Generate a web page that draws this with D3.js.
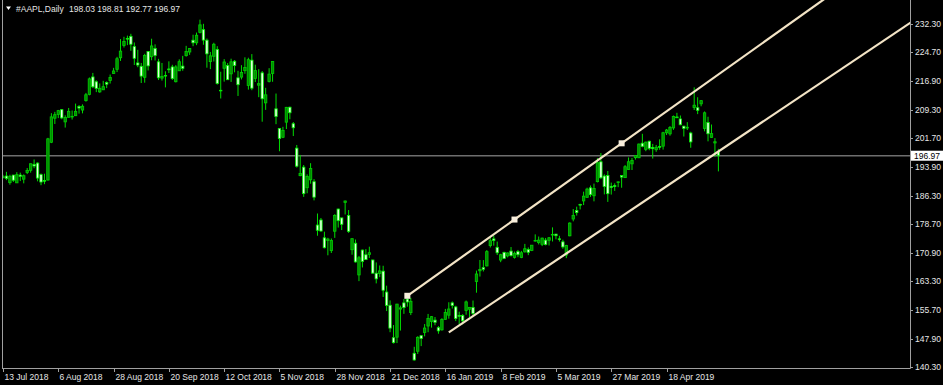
<!DOCTYPE html>
<html>
<head>
<meta charset="utf-8">
<script src="https://cdn.jsdelivr.net/npm/d3@7"></script>
<style>
  body { margin: 0; background: #000; }
  svg { display: block; }
</style>
</head>
<body>
<svg width="943" height="385"></svg>
<script>
// Trading days shown on the chart
const dates = [
  "2018-07-13","2018-07-16","2018-07-17","2018-07-18","2018-07-19","2018-07-20","2018-07-23","2018-07-24","2018-07-25","2018-07-26","2018-07-27","2018-07-30","2018-07-31",
  "2018-08-01","2018-08-02","2018-08-03","2018-08-06","2018-08-07","2018-08-08","2018-08-09","2018-08-10","2018-08-13","2018-08-14","2018-08-15","2018-08-16","2018-08-17","2018-08-20","2018-08-21","2018-08-22","2018-08-23","2018-08-24","2018-08-27","2018-08-28","2018-08-29","2018-08-30","2018-08-31",
  "2018-09-04","2018-09-05","2018-09-06","2018-09-07","2018-09-10","2018-09-11","2018-09-12","2018-09-13","2018-09-14","2018-09-17","2018-09-18","2018-09-19","2018-09-20","2018-09-21","2018-09-24","2018-09-25","2018-09-26","2018-09-27","2018-09-28",
  "2018-10-01","2018-10-02","2018-10-03","2018-10-04","2018-10-05","2018-10-08","2018-10-09","2018-10-10","2018-10-11","2018-10-12","2018-10-15","2018-10-16","2018-10-17","2018-10-18","2018-10-19","2018-10-22","2018-10-23","2018-10-24","2018-10-25","2018-10-26","2018-10-29","2018-10-30","2018-10-31",
  "2018-11-01","2018-11-02","2018-11-05","2018-11-06","2018-11-07","2018-11-08","2018-11-09","2018-11-12","2018-11-13","2018-11-14","2018-11-15","2018-11-16","2018-11-19","2018-11-20","2018-11-21","2018-11-23","2018-11-26","2018-11-27","2018-11-28","2018-11-29","2018-11-30",
  "2018-12-03","2018-12-04","2018-12-06","2018-12-07","2018-12-10","2018-12-11","2018-12-12","2018-12-13","2018-12-14","2018-12-17","2018-12-18","2018-12-19","2018-12-20","2018-12-21","2018-12-24","2018-12-26","2018-12-27","2018-12-28","2018-12-31",
  "2019-01-02","2019-01-03","2019-01-04","2019-01-07","2019-01-08","2019-01-09","2019-01-10","2019-01-11","2019-01-14","2019-01-15","2019-01-16","2019-01-17","2019-01-18","2019-01-22","2019-01-23","2019-01-24","2019-01-25","2019-01-28","2019-01-29","2019-01-30","2019-01-31",
  "2019-02-01","2019-02-04","2019-02-05","2019-02-06","2019-02-07","2019-02-08","2019-02-11","2019-02-12","2019-02-13","2019-02-14","2019-02-15","2019-02-19","2019-02-20","2019-02-21","2019-02-22","2019-02-25","2019-02-26","2019-02-27","2019-02-28",
  "2019-03-01","2019-03-04","2019-03-05","2019-03-06","2019-03-07","2019-03-08","2019-03-11","2019-03-12","2019-03-13","2019-03-14","2019-03-15","2019-03-18","2019-03-19","2019-03-20","2019-03-21","2019-03-22","2019-03-25","2019-03-26","2019-03-27","2019-03-28","2019-03-29",
  "2019-04-01","2019-04-02","2019-04-03","2019-04-04","2019-04-05","2019-04-08","2019-04-09","2019-04-10","2019-04-11","2019-04-12","2019-04-15","2019-04-16","2019-04-17","2019-04-18","2019-04-22","2019-04-23","2019-04-24","2019-04-25","2019-04-26","2019-04-29","2019-04-30",
  "2019-05-01","2019-05-02","2019-05-03","2019-05-06","2019-05-07","2019-05-08","2019-05-09","2019-05-10"
]

// Open, high, low, close for each day
const ohlc = [
  [191.08,191.84,190.90,191.33],[191.52,192.65,190.42,190.91],[189.75,191.87,189.20,191.45],[191.78,191.80,189.93,190.40],[189.69,192.55,189.69,191.88],
  [191.78,192.43,190.17,191.44],[190.68,191.96,189.56,191.61],[192.45,193.66,192.05,193.00],[193.06,194.85,192.43,194.82],[194.61,195.96,193.61,194.21],
  [194.99,195.19,190.10,190.98],[191.90,192.20,189.07,189.91],[190.30,192.14,189.34,190.29],
  [190.45,201.76,190.30,201.50],[200.58,208.38,200.35,207.39],[207.03,208.74,205.48,207.99],[208.00,209.25,207.07,209.07],[209.32,209.50,206.76,207.11],
  [206.05,207.81,204.52,207.25],[207.28,209.78,207.20,208.88],[207.36,209.10,206.67,207.53],[207.70,210.95,207.70,208.87],[210.16,210.56,208.26,209.75],
  [209.22,210.74,208.33,210.24],[211.75,213.81,211.47,213.32],[213.44,217.95,213.16,217.58],[218.10,219.18,215.11,215.46],[216.80,217.19,214.03,215.04],
  [214.10,216.36,213.84,215.05],[214.65,217.05,214.60,215.49],[216.60,216.90,215.11,216.16],[217.15,218.74,216.33,217.94],[219.01,220.54,218.92,219.70],
  [220.15,223.49,219.41,222.98],[223.25,228.26,222.40,225.03],[226.51,228.87,226.00,227.63],
  [228.41,229.18,226.63,228.36],[228.99,229.67,225.10,226.87],[226.23,227.35,221.30,223.10],[221.85,225.37,220.71,221.30],[220.95,221.85,216.47,218.33],
  [218.01,224.30,216.56,223.85],[224.94,225.00,219.84,221.07],[223.52,228.35,222.57,226.41],[225.75,226.84,222.52,223.84],[222.15,222.95,217.27,217.88],
  [217.79,221.85,217.12,218.24],[218.50,219.62,215.30,218.37],[220.24,222.28,219.15,220.03],[220.78,221.36,217.29,217.66],[216.82,221.26,216.63,220.79],
  [219.75,222.82,219.70,222.19],[221.00,223.75,219.76,220.42],[223.82,226.44,223.54,224.95],[224.79,225.84,224.02,225.74],
  [227.95,229.42,226.35,227.26],[227.25,230.00,226.63,229.28],[230.05,233.47,229.78,232.07],[230.78,232.35,226.73,227.99],[227.96,228.41,220.58,224.29],
  [222.21,224.80,220.20,223.77],[223.64,227.27,222.25,226.87],[225.46,226.35,216.05,216.36],[214.52,219.50,212.32,214.45],[220.42,222.88,216.84,222.11],
  [221.16,221.83,217.27,217.36],[218.93,222.99,216.76,222.15],[222.30,222.64,219.34,221.19],[217.86,219.74,213.00,216.02],[218.06,221.26,217.43,219.31],
  [219.79,223.36,218.94,220.65],[215.83,223.25,214.70,222.73],[222.60,224.23,214.54,215.09],[217.71,221.38,216.75,219.80],[215.90,220.19,212.67,216.30],
  [219.19,219.69,206.09,212.24],[211.15,215.18,209.27,213.30],[216.88,220.45,216.62,218.86],
  [219.05,222.36,216.81,222.22],[209.55,213.65,205.43,207.48],[204.30,204.39,198.17,201.59],[201.92,204.72,201.69,203.77],[205.97,210.06,204.13,209.95],
  [209.98,210.12,206.75,208.49],[205.55,206.01,202.25,204.47],[199.00,199.85,193.79,194.17],[191.63,197.18,191.45,192.23],[193.90,194.48,185.93,186.80],
  [188.39,191.97,186.90,191.41],[190.50,194.97,189.46,193.53],[190.00,190.70,184.99,185.86],[178.37,181.47,175.51,176.98],[179.73,180.27,176.55,176.78],
  [174.94,176.60,172.10,172.29],[174.24,174.95,170.26,174.62],[171.51,174.77,170.88,174.24],[176.73,181.29,174.93,180.94],[182.66,182.80,177.70,179.55],
  [180.29,180.33,177.03,178.58],
  [184.46,184.94,181.21,184.82],[180.95,182.39,176.27,176.69],[171.76,174.78,170.42,174.72],[173.49,174.49,168.30,168.49],[165.00,170.09,163.33,169.60],
  [171.66,171.79,167.00,168.63],[170.40,171.92,169.02,169.10],[170.49,172.57,169.55,170.95],[169.00,169.08,165.28,165.48],[165.45,168.35,162.73,163.94],
  [165.38,167.53,164.39,166.07],[166.00,167.45,159.09,160.89],[160.40,162.11,155.30,156.83],[156.86,158.16,149.63,150.73],[148.15,151.55,146.59,146.83],
  [148.30,157.23,146.72,157.17],[155.84,156.77,150.07,156.15],[157.50,158.52,154.55,156.23],[158.53,159.36,156.48,157.74],
  [154.89,158.85,154.23,157.92],[143.98,145.72,142.00,142.19],[144.53,148.55,143.80,148.26],[148.70,148.83,145.90,147.93],[149.56,151.82,148.52,150.75],
  [151.29,154.53,149.63,153.31],[152.50,153.97,150.86,153.80],[152.88,153.70,151.51,152.29],[150.85,151.27,149.22,150.00],[150.27,153.39,150.05,153.07],
  [153.08,155.88,153.00,154.94],[154.20,157.66,153.26,155.86],[157.50,157.88,155.98,156.82],[156.41,156.73,152.62,153.30],[154.15,155.14,151.70,153.92],
  [154.11,154.48,151.74,152.70],[155.48,158.13,154.32,157.76],[155.79,156.33,153.66,156.30],[156.25,158.13,154.11,154.68],[163.25,166.15,160.23,165.25],
  [166.11,169.00,164.56,166.44],
  [166.96,168.98,165.93,166.52],[167.41,171.66,167.28,171.25],[172.86,175.08,172.35,174.18],[174.65,175.57,172.85,174.24],[172.40,173.94,170.34,170.94],
  [168.99,170.66,168.42,170.41],[171.05,171.21,169.25,169.43],[170.10,171.00,169.70,170.89],[171.39,172.48,169.92,170.18],[169.71,171.26,169.38,170.80],
  [171.25,171.70,169.75,170.42],[169.71,171.44,169.49,170.93],[171.19,173.32,170.99,172.03],[171.80,172.37,170.30,171.06],[171.58,173.00,171.38,172.97],
  [174.16,175.87,173.95,174.23],[173.71,175.30,173.17,174.33],[173.21,175.00,172.73,174.87],[174.32,174.91,172.92,173.15],
  [174.28,175.15,172.89,174.97],[175.69,177.75,173.97,175.85],[175.94,176.00,174.54,175.53],[174.67,175.49,173.94,174.52],[173.87,174.44,172.02,172.50],
  [170.32,173.07,169.50,172.91],[175.49,179.12,175.35,178.90],[180.00,182.67,179.37,180.91],[182.25,183.30,180.92,181.71],[183.90,184.10,182.56,183.73],
  [184.85,187.33,183.74,186.12],[185.80,188.39,185.79,188.02],[188.35,188.99,185.92,186.53],[186.23,189.49,184.73,188.16],[190.02,196.33,189.81,195.09],
  [195.34,197.69,190.78,191.05],[191.51,191.98,186.60,188.74],[191.66,192.88,184.58,186.79],[188.75,189.76,186.55,188.47],[188.95,189.56,187.53,188.72],
  [189.83,190.08,188.54,189.95],
  [191.64,191.68,188.38,191.24],[191.09,194.46,191.05,194.02],[193.25,196.50,193.15,195.35],[194.79,196.37,193.14,195.69],[196.45,197.10,195.93,197.00],
  [196.42,200.23,196.34,200.10],[200.32,202.85,199.23,199.50],[198.68,200.74,198.18,200.62],[200.85,201.00,198.44,198.95],[199.20,200.14,196.21,198.87],
  [198.58,199.85,198.01,199.23],[199.46,201.37,198.56,199.25],[199.54,203.38,198.61,203.13],[203.12,204.15,202.52,203.86],[202.83,204.94,202.34,204.53],
  [204.43,207.75,203.90,207.48],[207.36,208.48,207.05,207.16],[206.83,207.76,205.12,205.28],[204.90,205.00,202.12,204.30],[204.40,205.97,203.86,204.61],
  [203.06,203.40,199.11,200.67],
  [209.88,215.31,209.23,210.52],[209.84,212.65,208.13,209.15],[210.89,211.84,210.23,211.75],[204.29,208.84,203.50,208.48],[205.88,207.42,200.83,202.86],
  [201.90,205.34,201.75,202.90],[200.40,201.68,196.66,200.72],[198.03,198.81,192.77,196.97]
]

// Axis labels
const priceTicks = [232.30, 224.70, 216.90, 209.30, 201.70, 193.90, 186.30, 178.70, 170.90, 163.30, 155.70, 147.90, 140.30]
const dateTicks = ["13 Jul 2018", "6 Aug 2018", "28 Aug 2018", "20 Sep 2018", "12 Oct 2018", "5 Nov 2018", "28 Nov 2018",
  "21 Dec 2018", "16 Jan 2019", "8 Feb 2019", "5 Mar 2019", "27 Mar 2019", "18 Apr 2019"]

// Channel lines: [date, price] anchors
const channelTop = [["2018-12-31", 159.4], ["2019-04-01", 200.3]]
const channelBottom = [["2019-01-17", 149.6], ["2019-05-10", 198.1]]

const lastPrice = 196.97
const header = "198.03 198.81 192.77 196.97"

//Select svg element
const svg = d3.select('svg')
const width = +svg.attr('width')
const height = +svg.attr('height')

const plotLeft = 2
const plotRight = 910
const plotBottom = 368
const barStep = 3.456

const font = '"Liberation Sans", Arial, sans-serif'
const textColor = '#e6e6e6'

const x = d3.scaleLinear()
    .domain([0, dates.length - 1])
    .range([3, 3 + (dates.length - 1) * barStep])

const y = d3.scaleLinear()
    .domain([140.3, 232.3])
    .range([367, 24])

const fmt = d3.timeFormat('%-d %b %Y')
const parse = d3.timeParse('%Y-%m-%d')
const idx = d => dates.indexOf(d)

svg.append('rect')
    .attr('width', width)
    .attr('height', height)
    .attr('fill', '#000')

svg.append('clipPath')
    .attr('id', 'plot')
  .append('rect')
    .attr('x', plotLeft)
    .attr('y', 0)
    .attr('width', plotRight - plotLeft)
    .attr('height', plotBottom)

const plot = svg.append('g').attr('clip-path', 'url(#plot)')

// last price line
plot.append('line')
    .attr('x1', plotLeft).attr('x2', plotRight)
    .attr('y1', y(lastPrice)).attr('y2', y(lastPrice))
    .attr('stroke', '#6e6e6e')
    .attr('stroke-width', 1.6)

// candles
const candles = plot.append('g')
    .selectAll('g')
    .data(ohlc)
    .join('g')

candles.append('line')
    .attr('x1', (d, i) => x(i)).attr('x2', (d, i) => x(i))
    .attr('y1', d => y(d[1])).attr('y2', d => y(d[2]))
    .attr('stroke', '#00dd00')
    .attr('stroke-width', 1)

candles.append('rect')
    .attr('x', (d, i) => x(i) - 1.2)
    .attr('width', 2.4)
    .attr('y', d => y(Math.max(d[0], d[3])))
    .attr('height', d => Math.max(0.6, Math.abs(y(d[0]) - y(d[3]))))
    .attr('fill', d => d[3] >= d[0] ? '#008c00' : '#e4ffe0')
    .attr('stroke', d => d[3] >= d[0] ? '#00d000' : '#00f000')
    .attr('stroke-width', 0.8)

// channel lines, extended to the right like a ray
const ray = pts => {
    const i0 = idx(pts[0][0]), i1 = idx(pts[1][0])
    const slope = (pts[1][1] - pts[0][1]) / (i1 - i0)
    const iEnd = 300
    return [[x(i0), y(pts[0][1])], [x(iEnd), y(pts[0][1] + slope * (iEnd - i0))]]
}

const lineColor = '#f3e4c6'
;[channelTop, channelBottom].forEach(pts => {
    const r = ray(pts)
    plot.append('line')
        .attr('x1', r[0][0]).attr('y1', r[0][1])
        .attr('x2', r[1][0]).attr('y2', r[1][1])
        .attr('stroke', lineColor)
        .attr('stroke-width', 2.2)
})

// selection markers on the top line: start, middle, end
const i0 = idx(channelTop[0][0]), i1 = idx(channelTop[1][0])
const markers = [
    [i0, channelTop[0][1]],
    [(i0 + i1) / 2, (channelTop[0][1] + channelTop[1][1]) / 2],
    [i1, channelTop[1][1]]
]
plot.selectAll('rect.marker')
    .data(markers)
    .join('rect')
        .attr('class', 'marker')
        .attr('x', d => x(d[0]) - 3)
        .attr('y', d => y(d[1]) - 3)
        .attr('width', 6)
        .attr('height', 6)
        .attr('fill', '#f8eedc')

// frame
const frame = svg.append('g').attr('stroke', '#a0a0a0').attr('stroke-width', 1)
frame.append('line').attr('x1', plotLeft + 0.5).attr('x2', plotLeft + 0.5).attr('y1', 0).attr('y2', plotBottom)
frame.append('line').attr('x1', plotRight + 0.5).attr('x2', plotRight + 0.5).attr('y1', 0).attr('y2', plotBottom + 0.5)
frame.append('line').attr('x1', plotLeft).attr('x2', plotRight + 0.5).attr('y1', plotBottom + 0.5).attr('y2', plotBottom + 0.5)

// price axis
const priceG = svg.append('g')
priceTicks.forEach(p => {
    priceG.append('line')
        .attr('x1', plotRight).attr('x2', plotRight + 3)
        .attr('y1', Math.round(y(p)) + 0.5).attr('y2', Math.round(y(p)) + 0.5)
        .attr('stroke', '#a0a0a0')
    priceG.append('text')
        .attr('x', plotRight + 5)
        .attr('y', y(p) + 3)
        .attr('fill', textColor)
        .attr('font-family', font)
        .attr('font-size', 8.5)
        .text(p.toFixed(2))
})

// last price box
svg.append('rect')
    .attr('x', plotRight + 1)
    .attr('y', y(lastPrice) - 5)
    .attr('width', 32)
    .attr('height', 10)
    .attr('fill', '#fff')
svg.append('text')
    .attr('x', plotRight + 4)
    .attr('y', y(lastPrice) + 3)
    .attr('fill', '#000')
    .attr('font-family', font)
    .attr('font-size', 8.5)
    .text(lastPrice.toFixed(2))

// date axis
const dateG = svg.append('g')
dateTicks.forEach(label => {
    const i = dates.findIndex(d => fmt(parse(d)) === label)
    const px = Math.round(x(i)) + 0.5
    dateG.append('line')
        .attr('x1', px).attr('x2', px)
        .attr('y1', plotBottom).attr('y2', plotBottom + 4)
        .attr('stroke', '#a0a0a0')
    dateG.append('text')
        .attr('x', px + 1)
        .attr('y', 379.5)
        .attr('fill', textColor)
        .attr('font-family', font)
        .attr('font-size', 8.5)
        .text(label)
})

// header
svg.append('path')
    .attr('d', d3.line()([[6, 6.5], [11, 6.5], [8.5, 10]]))
    .attr('fill', '#fff')
svg.append('text')
    .attr('x', 16).attr('y', 11.5)
    .attr('fill', textColor)
    .attr('font-family', font)
    .attr('font-size', 8.5)
    .text('#AAPL,Daily')
svg.append('text')
    .attr('x', 69).attr('y', 11.5)
    .attr('fill', textColor)
    .attr('font-family', font)
    .attr('font-size', 8.5)
    .text(header)
</script>
</body>
</html>
